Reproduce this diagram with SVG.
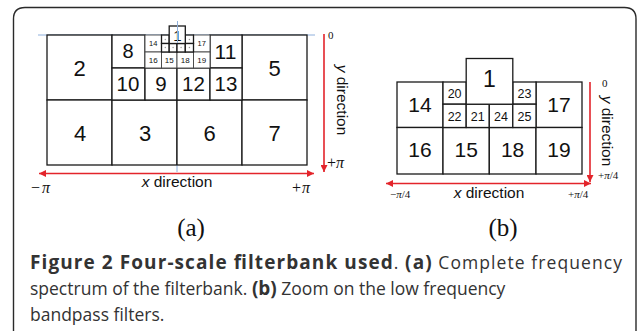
<svg xmlns="http://www.w3.org/2000/svg" width="637" height="331" viewBox="0 0 637 331">
<defs>
<marker id="ah" viewBox="0 0 10 10" refX="10" refY="5" markerUnits="userSpaceOnUse" markerWidth="9" markerHeight="7" orient="auto-start-reverse">
<path d="M0,0 L10,5 L0,10 z" fill="#e3242b"/>
</marker>
<style>
.c{fill:#fff;stroke:#1a1a1a;stroke-width:1.3}
.t{fill:#fff;stroke:#444;stroke-width:0.9}
.d{font-family:"Liberation Sans",Arial,sans-serif;fill:#111;text-anchor:middle}
.s{font-family:"Liberation Serif","Times New Roman",serif;fill:#111}
.ax{stroke:#e3242b;stroke-width:1.6;fill:none}
.bl{stroke:#8fb0dc;stroke-width:1;fill:none}
.lab{font-family:"Liberation Sans",Arial,sans-serif;font-size:15.5px;fill:#111;text-anchor:middle}
.cap{font-family:"Open Sans","Noto Sans",sans-serif;font-size:17.5px;fill:#333}
.b{font-weight:bold;font-size:19px}
.dot{fill:#999}
</style>
</defs>
<rect width="637" height="331" fill="#fff"/>
<path d="M13.5,331 V19 Q13.5,7.5 25,7.5 H624.5 Q636,7.5 636,19 V331" fill="none" stroke="#2a2a2a" stroke-width="1.4"/>

<!-- (a) -->
<g id="diagram-a">
<line class="bl" x1="38" y1="35" x2="315" y2="35"/>
<g id="a2"><rect class="c" x="47" y="35" width="65" height="65"/><text class="d" x="79.5" y="76" font-size="22">2</text></g>
<g id="a5"><rect class="c" x="242" y="35" width="65" height="65"/><text class="d" x="274.5" y="76" font-size="22">5</text></g>
<g id="a4"><rect class="c" x="47" y="100" width="65" height="65"/><text class="d" x="80" y="140.5" font-size="22">4</text></g>
<g id="a3"><rect class="c" x="112" y="100" width="65" height="65"/><text class="d" x="145" y="140.5" font-size="22">3</text></g>
<g id="a6"><rect class="c" x="177" y="100" width="65" height="65"/><text class="d" x="209.5" y="140.5" font-size="22">6</text></g>
<g id="a7"><rect class="c" x="242" y="100" width="65" height="65"/><text class="d" x="274.5" y="140.5" font-size="22">7</text></g>
<g id="a8"><rect class="c" x="112" y="35" width="33" height="33"/><text class="d" x="128" y="58" font-size="20">8</text></g>
<g id="a11"><rect class="c" x="210" y="35" width="32" height="33"/><text class="d" x="225.5" y="59" font-size="21">11</text></g>
<g id="a10"><rect class="c" x="112" y="68" width="33" height="32"/><text class="d" x="128" y="91" font-size="20.5">10</text></g>
<g id="a9"><rect class="c" x="145" y="68" width="32" height="32"/><text class="d" x="161" y="91" font-size="20.5">9</text></g>
<g id="a12"><rect class="c" x="177" y="68" width="33" height="32"/><text class="d" x="193.5" y="91" font-size="20.5">12</text></g>
<g id="a13"><rect class="c" x="210" y="68" width="32" height="32"/><text class="d" x="226" y="91" font-size="20.5">13</text></g>
<g id="a14"><rect class="t" x="145" y="35" width="16.5" height="17"/><text class="d" x="153.2" y="46" font-size="7.5">14</text></g>
<g id="a17"><rect class="t" x="193.5" y="35" width="16.5" height="17"/><text class="d" x="201.7" y="46" font-size="7.5">17</text></g>
<g id="a16"><rect class="t" x="145" y="52" width="16.5" height="16"/><text class="d" x="153.2" y="63" font-size="8">16</text></g>
<g id="a15"><rect class="t" x="161.5" y="52" width="15.5" height="16"/><text class="d" x="169.3" y="63" font-size="8">15</text></g>
<g id="a18"><rect class="t" x="177" y="52" width="16.5" height="16"/><text class="d" x="185.2" y="63" font-size="8">18</text></g>
<g id="a19"><rect class="t" x="193.5" y="52" width="16.5" height="16"/><text class="d" x="201.7" y="63" font-size="8">19</text></g>
<g id="a20"><rect class="c" x="161.5" y="35" width="7.7" height="8.5"/><circle class="dot" cx="165.3" cy="39.5" r="0.7"/></g>
<g id="a23"><rect class="c" x="185.3" y="35" width="8.2" height="8.5"/><circle class="dot" cx="189.4" cy="39.5" r="0.7"/></g>
<g id="a22"><rect class="c" x="161.5" y="43.5" width="7.7" height="8.5"/><circle class="dot" cx="165.3" cy="47.5" r="0.7"/></g>
<g id="a21"><rect class="c" x="169.2" y="43.5" width="7.8" height="8.5"/><circle class="dot" cx="173.1" cy="47.5" r="0.7"/></g>
<g id="a24"><rect class="c" x="177" y="43.5" width="8.3" height="8.5"/><circle class="dot" cx="181.1" cy="47.5" r="0.7"/></g>
<g id="a25"><rect class="c" x="185.3" y="43.5" width="8.2" height="8.5"/><circle class="dot" cx="189.4" cy="47.5" r="0.7"/></g>
<g id="a1"><rect class="c" x="169.2" y="26" width="16.1" height="17.5" stroke-width="1.6"/><text class="d" x="177.3" y="40.5" font-size="15">1</text></g>
<line class="bl" x1="177.5" y1="21" x2="177.5" y2="43"/>
<line class="bl" x1="177" y1="165.5" x2="177" y2="172"/>
</g>

<!-- (b) -->
<g id="diagram-b">
<g id="b14"><rect class="c" x="397" y="82" width="46" height="45.5"/><text class="d" x="420" y="111.5" font-size="21">14</text></g>
<g id="b17"><rect class="c" x="536" y="82" width="46" height="45.5"/><text class="d" x="559" y="111.5" font-size="21">17</text></g>
<g id="b16"><rect class="c" x="397" y="127.5" width="46" height="46.5"/><text class="d" x="420" y="156.5" font-size="21">16</text></g>
<g id="b15"><rect class="c" x="443" y="127.5" width="46.3" height="46.5"/><text class="d" x="466.2" y="156.5" font-size="21">15</text></g>
<g id="b18"><rect class="c" x="489.3" y="127.5" width="46.7" height="46.5"/><text class="d" x="512.6" y="156.5" font-size="21">18</text></g>
<g id="b19"><rect class="c" x="536" y="127.5" width="46" height="46.5"/><text class="d" x="559" y="156.5" font-size="21">19</text></g>
<g id="b20"><rect class="c" x="443" y="82" width="23.2" height="22.2"/><text class="d" x="454.6" y="98" font-size="12.5">20</text></g>
<g id="b23"><rect class="c" x="512.8" y="82" width="23.2" height="22.2"/><text class="d" x="524.4" y="98" font-size="12.5">23</text></g>
<g id="b22"><rect class="c" x="443" y="104.2" width="23.2" height="23.3"/><text class="d" x="454.6" y="121" font-size="12.5">22</text></g>
<g id="b21"><rect class="c" x="466.2" y="104.2" width="23.1" height="23.3"/><text class="d" x="477.8" y="121" font-size="12.5">21</text></g>
<g id="b24"><rect class="c" x="489.3" y="104.2" width="23.5" height="23.3"/><text class="d" x="501" y="121" font-size="12.5">24</text></g>
<g id="b25"><rect class="c" x="512.8" y="104.2" width="23.2" height="23.3"/><text class="d" x="524.4" y="121" font-size="12.5">25</text></g>
<g id="b1"><rect class="c" x="466.2" y="58.5" width="46.6" height="45.7"/><text class="d" x="489.5" y="87" font-size="23">1</text></g>
</g>

<!-- axes -->
<g id="connectors">
<line class="ax" x1="39" y1="173.5" x2="314" y2="173.5" marker-start="url(#ah)" marker-end="url(#ah)"/>
<line class="ax" x1="324" y1="34" x2="324" y2="172" marker-end="url(#ah)"/>
<line class="ax" x1="386" y1="183.5" x2="591" y2="183.5" marker-start="url(#ah)" marker-end="url(#ah)"/>
<line class="ax" x1="590" y1="82" x2="590" y2="182" marker-end="url(#ah)"/>
</g>

<g id="labels">
<text class="lab" x="177" y="187"><tspan font-style="italic">x</tspan> direction</text>
<text class="lab" transform="translate(337,100) rotate(90)"><tspan font-style="italic">y</tspan> direction</text>
<text class="s" x="328" y="39" font-size="11">0</text>
<text class="s" x="327" y="168" font-size="16">+<tspan font-style="italic">π</tspan></text>
<text class="s" x="31" y="193" font-size="16">−<tspan dx="2" font-style="italic">π</tspan></text>
<text class="s" x="292" y="193" font-size="16">+<tspan dx="1" font-style="italic">π</tspan></text>
<text class="lab" x="489" y="197.5"><tspan font-style="italic">x</tspan> direction</text>
<text class="lab" transform="translate(602,131) rotate(90)"><tspan font-style="italic">y</tspan> direction</text>
<text class="s" x="602" y="86.5" font-size="11">0</text>
<text class="s" x="598" y="179" font-size="11">+<tspan font-style="italic">π</tspan>/4</text>
<text class="s" x="390" y="198" font-size="11">−<tspan font-style="italic">π</tspan>/4</text>
<text class="s" x="568" y="198" font-size="11">+<tspan font-style="italic">π</tspan>/4</text>
<text class="s" x="191" y="236" font-size="25" text-anchor="middle">(a)</text>
<text class="s" x="503" y="236" font-size="25" text-anchor="middle">(b)</text>
</g>

<g id="caption">
<text class="cap" x="30" y="269" textLength="592" lengthAdjust="spacing"><tspan class="b">Figure 2 Four-scale filterbank used</tspan>. <tspan class="b">(a)</tspan> Complete frequency</text>
<text class="cap" x="30" y="295">spectrum of the filterbank. <tspan class="b">(b)</tspan> Zoom on the low frequency</text>
<text class="cap" x="30" y="321">bandpass filters.</text>
</g>
</svg>
